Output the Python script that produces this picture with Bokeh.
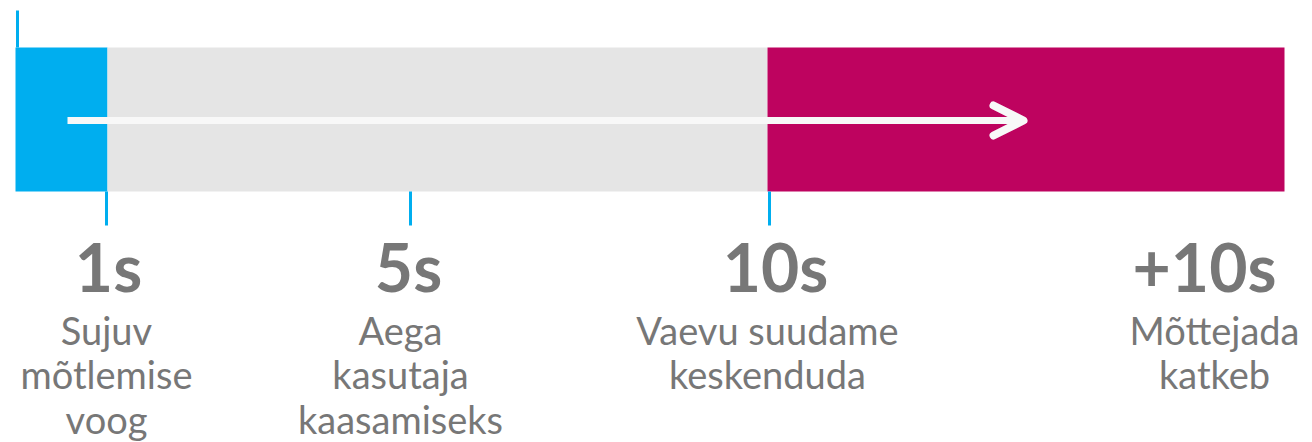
from bokeh.plotting import figure
from bokeh.models import Range1d, Arrow, OpenHead
from bokeh.core.properties import value
from bokeh.embed import file_html
from bokeh.resources import INLINE

# --- data (timeline position units) ---
seg_start = [15, 107, 767]
seg_end = [107, 767, 1284]
seg_colors = ["#00AEEF", "#E5E5E5", "#BE035F"]

tick_pos = [106, 410, 769]
top_tick_pos = [17]

labels = ["1s", "5s", "10s", "+10s"]
label_pos = [108, 408, 775, 1204]
descriptions = ["Sujuv\nmõtlemise\nvoog", "Aega\nkasutaja\nkaasamiseks",
                "Vaevu suudame\nkeskenduda", "Mõttejada\nkatkeb"]
desc_pos = [106, 400, 767, 1214]

arrow_from = 67
arrow_to = 1023

W, H = 1312, 442
p = figure(width=W, height=H, output_backend="svg", toolbar_location=None,
           x_range=Range1d(0, W), y_range=Range1d(H, 0),
           min_border=0, outline_line_color=None)
p.axis.visible = False
p.grid.visible = False
p.background_fill_color = "white"

BAR_TOP, BAR_BOT = 47, 191
p.quad(left=seg_start, right=seg_end, top=[BAR_TOP] * 3, bottom=[BAR_BOT] * 3,
       fill_color=seg_colors, line_color=None)

p.segment(x0=tick_pos, x1=tick_pos, y0=[BAR_BOT] * len(tick_pos), y1=[225] * len(tick_pos),
          line_color="#00AEEF", line_width=3)
p.segment(x0=top_tick_pos, x1=top_tick_pos, y0=[10], y1=[BAR_TOP],
          line_color="#00AEEF", line_width=3)

p.add_layout(Arrow(x_start=arrow_from, y_start=120, x_end=arrow_to, y_end=120,
                   line_color="#F8F8F8", line_width=7,
                   end=OpenHead(size=30, line_color="#F8F8F8", line_width=8,
                                line_cap="round", line_join="round")))

p.text(x=label_pos, y=[266] * 4, text=labels, text_font=value("Lato"),
       text_font_style="bold", text_font_size="66px", text_color="#777777",
       text_align="center", text_baseline="alphabetic")

xs, ys, ts = [], [], []
for xp, d in zip(desc_pos, descriptions):
    for i, line in enumerate(d.split("\n")):
        xs.append(xp)
        ys.append(329 + i * 44.5)
        ts.append(line)
p.text(x=xs, y=ys, text=ts, text_font=value("Lato"), text_font_size="38px",
       text_color="#777777", text_align="center", text_baseline="alphabetic")

open("out.html", "w").write(file_html(p, INLINE))
